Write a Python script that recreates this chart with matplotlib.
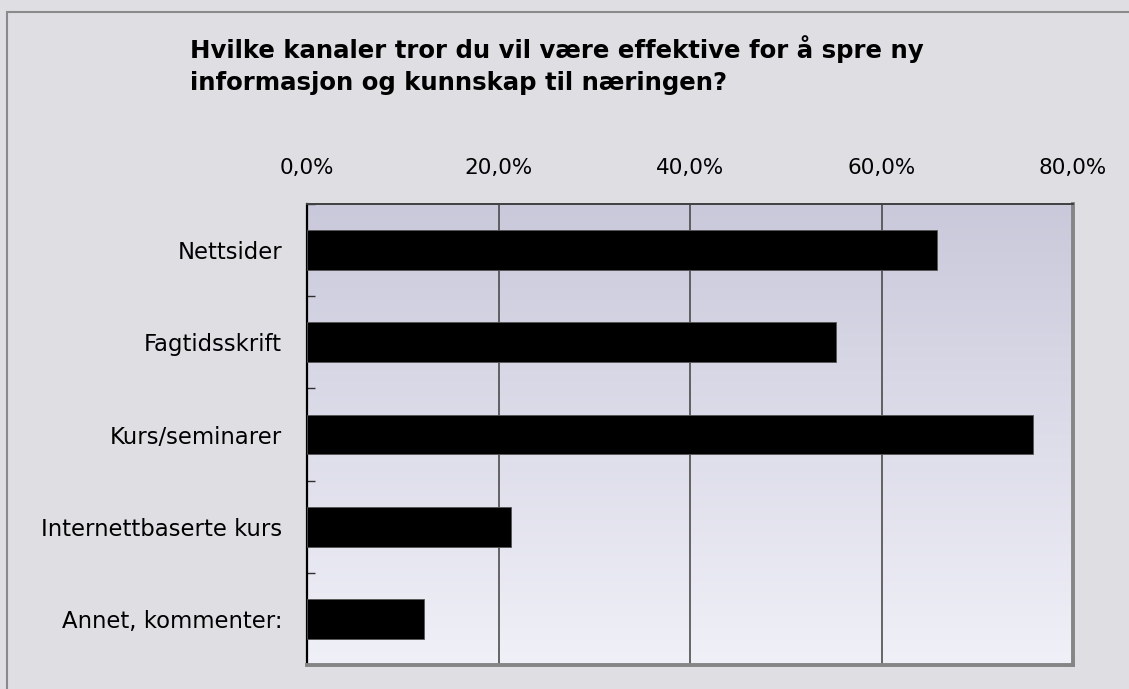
import numpy as np
import matplotlib
matplotlib.use('Agg')
import matplotlib.pyplot as plt
from matplotlib.patches import Rectangle
from matplotlib.colors import LinearSegmentedColormap

categories = ['Nettsider', 'Fagtidsskrift', 'Kurs/seminarer',
              'Internettbaserte kurs', 'Annet, kommenter:']
values = [65.8, 55.3, 75.8, 21.3, 12.2]
xticks = [0, 20, 40, 60, 80]
xticklabels = ['0,0%', '20,0%', '40,0%', '60,0%', '80,0%']
title_lines = ['Hvilke kanaler tror du vil være effektive for å spre ny',
               'informasjon og kunnskap til næringen?']

W, H = 1129, 689
fig = plt.figure(figsize=(W / 100, H / 100), dpi=100)
fig.patch.set_facecolor('#dfdee3')

# outer frame (only left/top visible in the crop)
fig.patches.append(Rectangle((7 / W, -0.1), 1.2, (H - 12) / H + 0.1, transform=fig.transFigure,
                             fill=False, edgecolor='#8a8a8a', linewidth=1.5, zorder=0))

ax = fig.add_axes([307 / W, 24 / H, (1073 - 307) / W, (665 - 204) / H])

# gradient background
grad = np.linspace(0, 1, 256).reshape(-1, 1)
cmap = LinearSegmentedColormap.from_list('bg', ['#cac9db', '#f0f0f8'])
ax.imshow(grad, extent=[0, 1, 0, 1], transform=ax.transAxes, cmap=cmap,
          aspect='auto', origin='upper', zorder=0)

y = np.arange(len(categories))
ax.barh(y, values, height=0.43, color='black', edgecolor='#555555', linewidth=0.6, zorder=3)

ax.set_xlim(0, 80)
ax.set_ylim(len(categories) - 0.5, -0.5)

for xv in xticks[1:-1]:
    ax.axvline(xv, color='#404040', linewidth=1.1, zorder=2)

ax.xaxis.tick_top()
ax.set_xticks(xticks)
ax.set_xticklabels(xticklabels)
ax.tick_params(axis='x', length=0, pad=19, labelsize=15.5, colors='black')

ax.set_yticks(y)
ax.set_yticklabels(categories)
ax.tick_params(axis='y', which='major', length=0, pad=18, labelsize=16.4)
ax.set_yticks(np.arange(-0.5, len(categories)), minor=True)
ax.tick_params(axis='y', which='minor', direction='in', length=6, width=1.0, color='#303030')

ax.spines['left'].set_color('black')
ax.spines['left'].set_linewidth(1.6)
ax.spines['top'].set_color('#404040')
ax.spines['top'].set_linewidth(1.4)
ax.spines['right'].set_color('#858585')
ax.spines['right'].set_linewidth(2.8)
ax.spines['bottom'].set_color('#858585')
ax.spines['bottom'].set_linewidth(2.8)

for i, line in enumerate(title_lines):
    fig.text(190 / W, 1 - (58 + 32 * i) / H, line, fontsize=17.6, fontweight='bold',
             ha='left', va='baseline')

fig.savefig('out.png', dpi=100, facecolor=fig.get_facecolor())
